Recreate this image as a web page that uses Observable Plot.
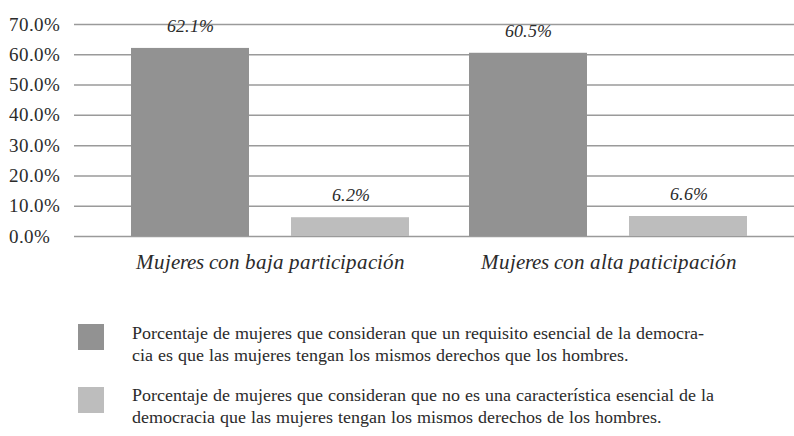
<!DOCTYPE html>
<html>
<head>
<meta charset="utf-8">
<script src="https://cdn.jsdelivr.net/npm/d3@7"></script>
<script src="https://cdn.jsdelivr.net/npm/@observablehq/plot@0.6"></script>
<style>
@font-face { font-family: "RefSerif"; font-style: normal; font-weight: 400; src: local("Liberation Serif"), local("LiberationSerif"), local("Liberation Serif Regular"); }
@font-face { font-family: "RefSerif"; font-style: italic; font-weight: 400; src: local("Liberation Serif Italic"), local("LiberationSerif-Italic"); }
</style>
</head>
<body style="margin:0;background:#fff">
<div id="wrap" style="position:relative;width:794px;height:436px;font-family:RefSerif, 'Liberation Serif', serif;color:#2b2b2b"></div>
<script>
const categories = ["Mujeres con baja participación", "Mujeres con alta paticipación"];
const seriesNames = [
  "Porcentaje de mujeres que consideran que un requisito esencial de la democra-\ncia es que las mujeres tengan los mismos derechos que los hombres.",
  "Porcentaje de mujeres que consideran que no es una característica esencial de la\ndemocracia que las mujeres tengan los mismos derechos de los hombres."
];
const seriesA = [62.1, 60.5];
const seriesB = [6.2, 6.6];
const yTicks = [0, 10, 20, 30, 40, 50, 60, 70];
const colors = ["#929292", "#bdbdbd"];

const dataA = categories.map((c, i) => ({category: c, value: seriesA[i]}));
const dataB = categories.map((c, i) => ({category: c, value: seriesB[i]}));
const fmt = d => d.toFixed(1) + "%";
const FONT = "RefSerif, 'Liberation Serif', serif";

const chart = Plot.plot({
  width: 794,
  height: 285,
  marginLeft: 74,
  marginRight: 0,
  marginTop: 24,
  marginBottom: 49,
  style: {fontFamily: FONT, fontSize: "18px", color: "#2b2b2b", background: "#fff"},
  x: {domain: categories, range: [131, 747], paddingInner: 60 / 338, paddingOuter: 0, label: null},
  y: {domain: [0, 70], label: null},
  marks: [
    Plot.ruleY(yTicks, {stroke: "#9a9a9a", strokeWidth: 1.5}),
    Plot.barY(dataA, {x: "category", y: "value", fill: colors[0], insetRight: 160}),
    Plot.barY(dataB, {x: "category", y: "value", fill: colors[1], insetLeft: 160}),
    Plot.text(dataA, {x: "category", y: "value", text: d => fmt(d.value), dx: -80, dy: -22, fontStyle: "italic", fontSize: 18, fontFamily: FONT, fill: "#2b2b2b"}),
    Plot.text(dataB, {x: "category", y: "value", text: d => fmt(d.value), dx: 80, dy: -22, fontStyle: "italic", fontSize: 18, fontFamily: FONT, fill: "#2b2b2b"}),
    Plot.axisY({ticks: yTicks, tickSize: 0, tickPadding: 66, textAnchor: "start", tickFormat: fmt, fontSize: 19, fontFamily: FONT, label: null}),
    Plot.axisX({tickSize: 0, tickPadding: 18, fontStyle: "italic", fontSize: 20.5, fontFamily: FONT, label: null})
  ]
});

chart.querySelectorAll("text").forEach(el => el.style.setProperty("font-family", FONT, "important"));

const wrap = document.getElementById("wrap");
wrap.appendChild(chart);

const tops = [324, 387];
const textTops = [323, 385];
seriesNames.forEach((name, i) => {
  const sw = document.createElement("div");
  sw.style.position = "absolute";
  sw.style.left = "78px";
  sw.style.top = tops[i] + "px";
  sw.style.width = "26px";
  sw.style.height = "26px";
  sw.style.background = colors[i];
  wrap.appendChild(sw);
  const t = document.createElement("div");
  t.style.position = "absolute";
  t.style.left = "132px";
  t.style.top = textTops[i] + "px";
  t.style.setProperty("font-family", FONT, "important");
  t.style.fontSize = "18px";
  t.style.lineHeight = "21.5px";
  t.style.whiteSpace = "nowrap";
  t.style.color = "#2b2b2b";
  name.split("\n").forEach(line => {
    const l = document.createElement("div");
    l.textContent = line;
    t.appendChild(l);
  });
  wrap.appendChild(t);
});
</script>
</body>
</html>
